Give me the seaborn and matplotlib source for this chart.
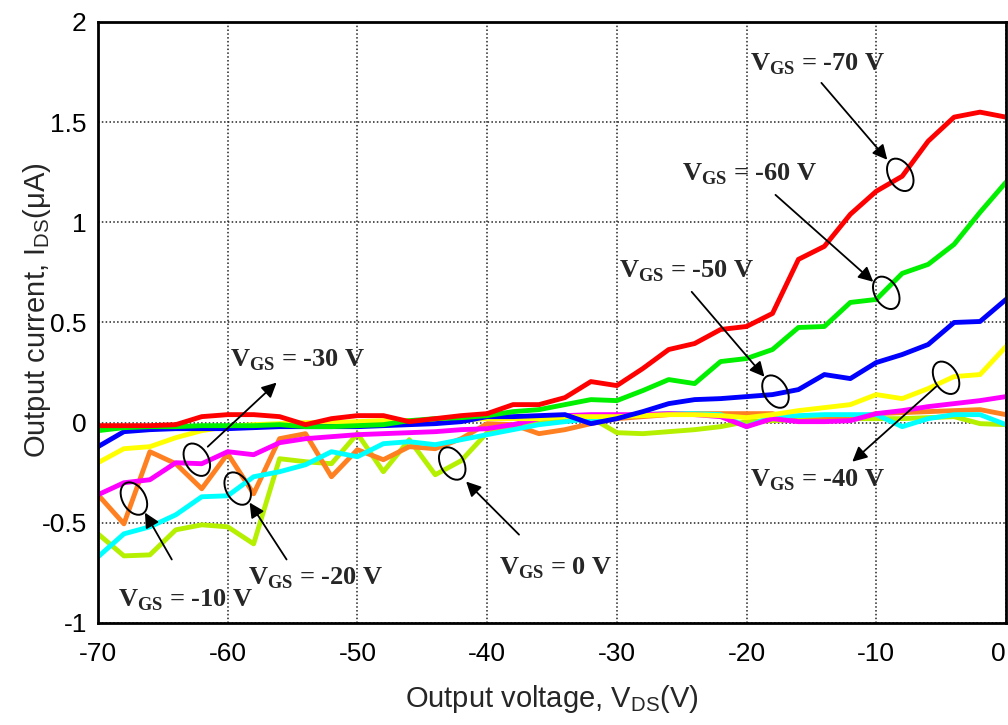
import numpy as np
import pandas as pd
import matplotlib
matplotlib.use("Agg")
import matplotlib.pyplot as plt
import matplotlib.transforms as mtransforms
from matplotlib.patches import Ellipse
from matplotlib.ticker import MultipleLocator
import seaborn as sns

# Drain voltage sweep (V)
vds = list(range(-70, 1, 2))

# Drain current (uA) for each gate voltage
i_vgs_0 = [-0.555, -0.665, -0.66, -0.535, -0.51, -0.52, -0.605, -0.18, -0.195, -0.205,
           -0.055, -0.245, -0.085, -0.26, -0.19, -0.05, -0.02, 0.0, 0.02, 0.025,
           -0.05, -0.055, -0.045, -0.035, -0.02, 0.005, 0.01, 0.015, 0.02, 0.02,
           0.02, 0.02, 0.025, 0.03, -0.005, -0.01]
i_vgs_10 = [-0.36, -0.505, -0.145, -0.205, -0.33, -0.155, -0.355, -0.08, -0.055, -0.27,
            -0.135, -0.185, -0.12, -0.13, -0.08, -0.005, -0.01, -0.055, -0.035, -0.005,
            0.02, 0.03, 0.04, 0.045, 0.045, 0.045, 0.045, 0.005, 0.015, 0.02,
            0.045, 0.05, 0.055, 0.06, 0.065, 0.04]
i_vgs_20 = [-0.67, -0.555, -0.52, -0.46, -0.37, -0.365, -0.27, -0.245, -0.21, -0.145,
            -0.17, -0.105, -0.095, -0.11, -0.085, -0.06, -0.035, -0.01, 0.005, 0.02,
            0.03, 0.04, 0.045, 0.045, 0.04, -0.02, 0.03, 0.035, 0.04, 0.04,
            0.04, -0.02, 0.02, 0.04, 0.04, -0.01]
i_vgs_30 = [-0.36, -0.3, -0.285, -0.2, -0.205, -0.145, -0.16, -0.1, -0.08, -0.07,
            -0.06, -0.055, -0.05, -0.045, -0.035, -0.03, -0.01, 0.02, 0.035, 0.04,
            0.04, 0.04, 0.045, 0.04, 0.03, -0.02, 0.02, 0.005, 0.005, 0.01,
            0.045, 0.06, 0.08, 0.095, 0.11, 0.13]
i_vgs_40 = [-0.2, -0.13, -0.12, -0.075, -0.04, -0.02, -0.01, -0.005, 0.0, 0.0,
            0.005, 0.01, 0.01, 0.01, 0.015, 0.02, 0.02, 0.02, 0.03, 0.03,
            0.03, 0.035, 0.04, 0.04, 0.035, 0.025, 0.04, 0.06, 0.075, 0.09,
            0.14, 0.12, 0.17, 0.23, 0.24, 0.38]
i_vgs_50 = [-0.12, -0.045, -0.035, -0.03, -0.03, -0.03, -0.025, -0.02, -0.02, -0.02,
            -0.02, -0.015, -0.01, -0.005, 0.005, 0.03, 0.03, 0.035, 0.04, -0.005,
            0.02, 0.055, 0.095, 0.115, 0.12, 0.13, 0.14, 0.165, 0.24, 0.22,
            0.3, 0.34, 0.39, 0.5, 0.505, 0.615]
i_vgs_60 = [-0.04, -0.025, -0.02, -0.02, -0.015, -0.015, -0.015, -0.01, -0.02, -0.02,
            -0.015, -0.01, 0.01, 0.02, 0.025, 0.035, 0.055, 0.065, 0.09, 0.115,
            0.11, 0.16, 0.215, 0.195, 0.305, 0.32, 0.365, 0.475, 0.48, 0.6,
            0.615, 0.745, 0.79, 0.89, 1.05, 1.2]
i_vgs_70 = [-0.015, -0.015, -0.015, -0.01, 0.03, 0.04, 0.04, 0.03, -0.01, 0.02,
            0.035, 0.035, 0.005, 0.02, 0.035, 0.045, 0.09, 0.09, 0.125, 0.205,
            0.185, 0.27, 0.365, 0.395, 0.465, 0.48, 0.545, 0.815, 0.88, 1.04,
            1.155, 1.23, 1.405, 1.525, 1.55, 1.525]

vgs_levels = ["0", "-10", "-20", "-30", "-40", "-50", "-60", "-70"]
currents = [i_vgs_0, i_vgs_10, i_vgs_20, i_vgs_30, i_vgs_40, i_vgs_50, i_vgs_60, i_vgs_70]
colors = ["#b4f000", "#ff8020", "#00ffff", "#ff00ff", "#ffff00", "#0000ff", "#00f000", "#ff0000"]

x_ticks = [-70, -60, -50, -40, -30, -20, -10, 0]
x_ticklabels = ["-70", "-60", "-50", "-40", "-30", "-20", "-10", "0"]
y_ticks = [-1, -0.5, 0, 0.5, 1, 1.5, 2]
y_ticklabels = ["-1", "-0.5", "0", "0.5", "1", "1.5", "2"]

# Callout labels: text anchor (V, uA), ellipse centre, arrow tail, arrow head
label_pos = {"-70": (-19.7, 1.76), "-60": (-25.0, 1.21), "-50": (-29.85, 0.723),
             "-40": (-19.7, -0.32), "-30": (-59.85, 0.279), "-20": (-58.46, -0.808),
             "-10": (-68.46, -0.918), "0": (-39.08, -0.758)}
ellipse_pos = {"-70": (-8.15, 1.237), "-60": (-9.23, 0.648), "-50": (-17.77, 0.155),
               "-40": (-4.62, 0.224), "-30": (-62.38, -0.185), "-20": (-59.23, -0.329),
               "-10": (-67.23, -0.379), "0": (-42.69, -0.204)}
arrows = {"-70": ((-14.23, 1.696), (-9.15, 1.312)),
          "-60": ((-17.77, 1.137), (-10.23, 0.703)),
          "-50": ((-24.23, 0.653), (-18.62, 0.229)),
          "-40": ((-5.38, 0.18), (-11.85, -0.195)),
          "-30": ((-61.54, -0.12), (-56.23, 0.2)),
          "-20": ((-55.46, -0.683), (-58.31, -0.399)),
          "-10": ((-64.31, -0.683), (-66.38, -0.449)),
          "0": ((-37.54, -0.559), (-41.62, -0.294))}

df = pd.DataFrame({
    "vds": np.tile(vds, len(vgs_levels)),
    "ids": np.concatenate(currents),
    "vgs": np.repeat(vgs_levels, len(vds)),
})

sns.set_style("white")
plt.rcParams["font.family"] = ["Liberation Sans", "DejaVu Sans"]
plt.rcParams["axes.unicode_minus"] = False
plt.rcParams["mathtext.fontset"] = "custom"
plt.rcParams["mathtext.rm"] = "Liberation Sans"
plt.rcParams["mathtext.bf"] = "Liberation Serif:bold"

fig = plt.figure(figsize=(10.08, 7.25), dpi=100)
ax = fig.add_axes([0.0972, 0.1407, 0.9008, 0.829])

sns.lineplot(data=df, x="vds", y="ids", hue="vgs", hue_order=vgs_levels,
             palette=dict(zip(vgs_levels, colors)), linewidth=3.5,
             legend=False, ax=ax)

ax.set_xlim(-70, 0)
ax.set_ylim(-1, 2)
ax.set_xticks(x_ticks)
ax.set_xticklabels(x_ticklabels)
ax.set_yticks(y_ticks)
ax.set_yticklabels(y_ticklabels)
ax.xaxis.set_minor_locator(MultipleLocator(2))
ax.yaxis.set_minor_locator(MultipleLocator(0.1))
# keep the final "0" label inside the canvas
ax.get_xticklabels()[-1].set_horizontalalignment("right")

ax.grid(True, which="major", color="#222222", linestyle=(0, (1, 1.5)), linewidth=1.1)
ax.set_axisbelow(True)
ax.tick_params(which="both", direction="in", top=False, right=False,
               labelsize=19, colors="black")
ax.tick_params(which="major", length=8, width=1.2)
ax.tick_params(which="minor", length=5, width=1.0)
ax.tick_params(axis="x", pad=14)
ax.tick_params(axis="y", pad=8)
for s in ax.spines.values():
    s.set_color("black")
    s.set_linewidth(2)

ax.set_xlabel(r"Output voltage, V$_{\mathrm{DS}}$(V)", fontsize=21, labelpad=12)
ax.set_ylabel("Output current, I$_{\\mathrm{DS}}$(\u03bcA)", fontsize=21)
ax.yaxis.set_label_coords(-0.05, 0.52)

for lvl in vgs_levels:
    tx, ty = label_pos[lvl]
    ax.text(tx, ty, "V$_{\\mathbf{GS}}$ = " + lvl + " V", fontsize=19,
            family="Liberation Serif", weight="bold", ha="left", va="baseline")
    ex, ey = ellipse_pos[lvl]
    trans = fig.dpi_scale_trans + mtransforms.ScaledTranslation(ex, ey, ax.transData)
    ax.add_patch(Ellipse((0, 0), width=0.23, height=0.35, angle=30, fill=False,
                         edgecolor="black", linewidth=1.4, transform=trans, zorder=5))
    tail, head = arrows[lvl]
    ax.annotate("", xy=head, xytext=tail,
                arrowprops=dict(arrowstyle="-|>", color="black", lw=1.3,
                                mutation_scale=22, shrinkA=0, shrinkB=0))

fig.savefig("out.png", dpi=100)
